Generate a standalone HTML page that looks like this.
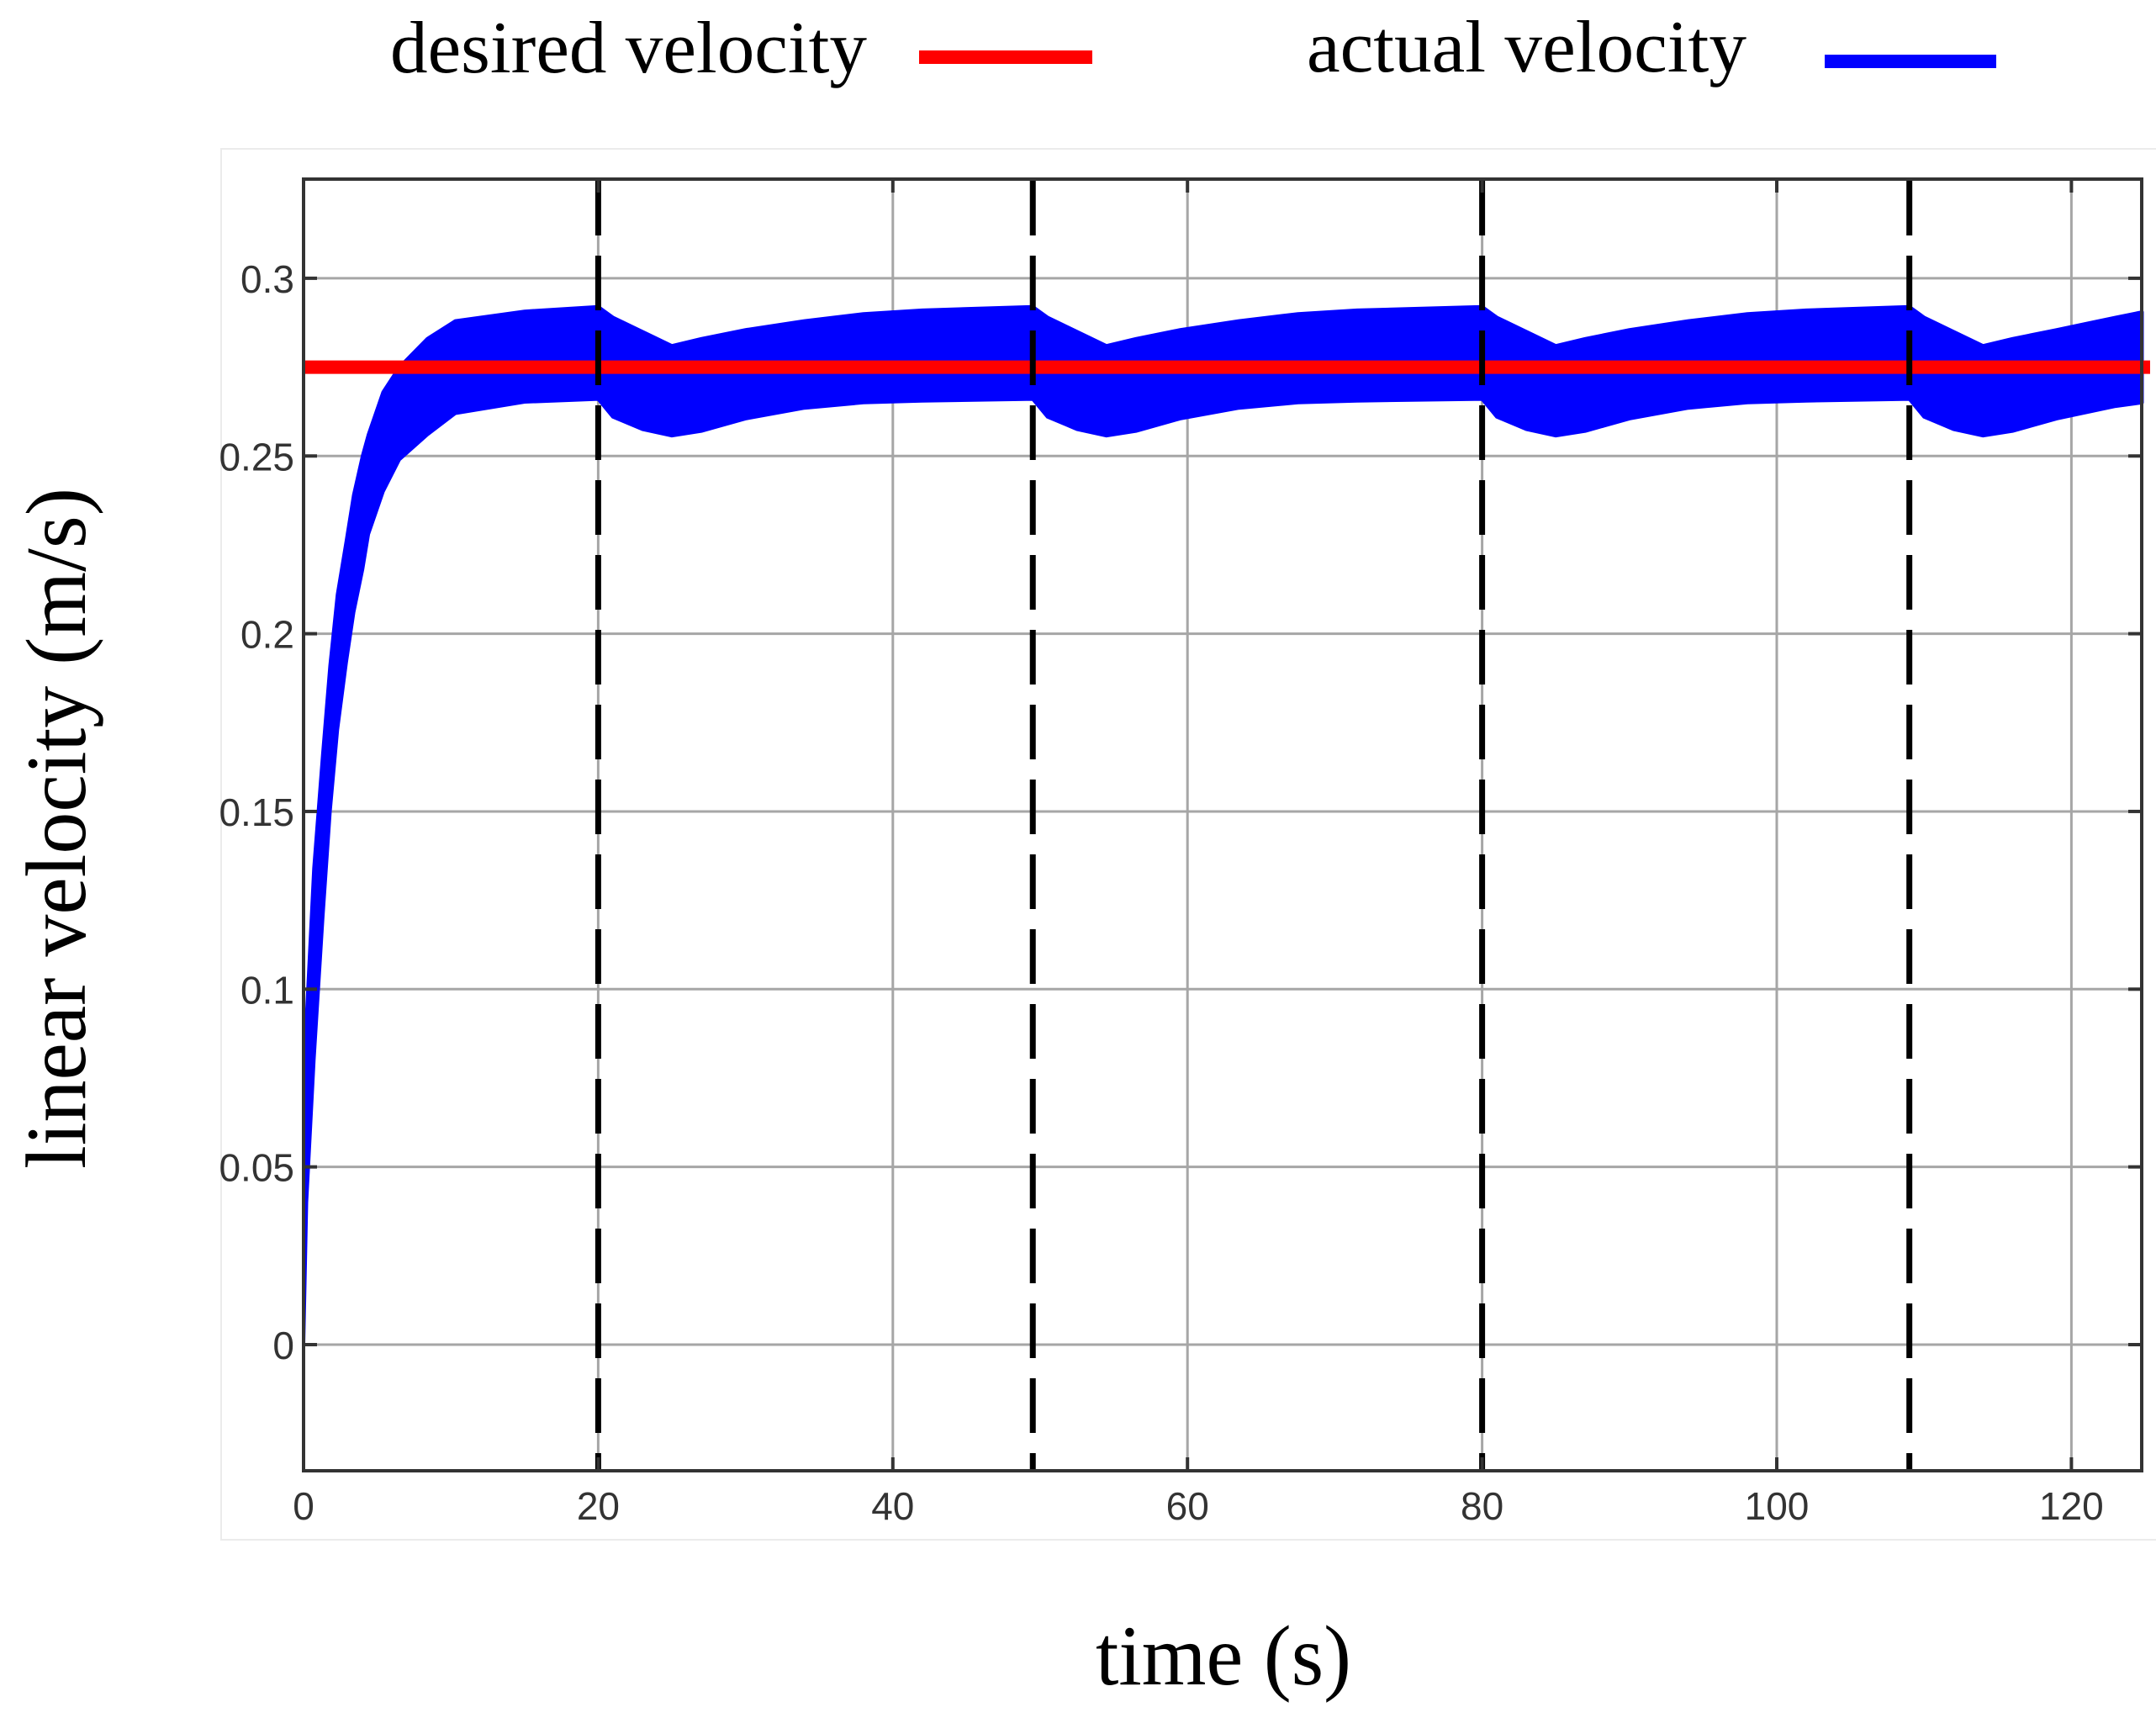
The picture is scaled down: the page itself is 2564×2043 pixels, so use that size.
<!DOCTYPE html>
<html><head><meta charset="utf-8"><style>
html,body{margin:0;padding:0;background:#fff;}
svg{display:block;}
</style></head><body>
<svg id="chart" width="2564" height="2043" viewBox="0 0 2564 2043" xmlns="http://www.w3.org/2000/svg">
<rect x="0" y="0" width="2564" height="2043" fill="#fff"/>
<rect x="263" y="177" width="2310" height="1654" fill="none" stroke="#ebebeb" stroke-width="2"/>
<g id="grid"></g>
<g id="series"></g>
<g id="axes"></g>
<g>
<text x="464" y="86" font-family="Liberation Serif, serif" font-size="88" textLength="567" lengthAdjust="spacingAndGlyphs">desired velocity</text>
<rect x="1093" y="60" width="206" height="16" fill="#ff0000"/>
<text x="1554" y="85" font-family="Liberation Serif, serif" font-size="88" textLength="523" lengthAdjust="spacingAndGlyphs">actual velocity</text>
<rect x="2170" y="65" width="204" height="16" fill="#0000ff"/>
</g>
<text transform="translate(101,1390) rotate(-90)" x="0" y="0" font-family="Liberation Serif, serif" font-size="102" textLength="810" lengthAdjust="spacingAndGlyphs">linear velocity (m/s)</text>
<text x="1303" y="2003" font-family="Liberation Serif, serif" font-size="102" textLength="304" lengthAdjust="spacingAndGlyphs">time (s)</text>
</svg>
<script>
const xTicks = [0, 20, 40, 60, 80, 100, 120];
const yTicks = [0, 0.05, 0.1, 0.15, 0.2, 0.25, 0.3];
const yTickLabels = ["0", "0.05", "0.1", "0.15", "0.2", "0.25", "0.3"];
const switchTimes = [20, 49.5, 80, 109];
const desiredValue = 0.275;
const actualTimes = [0, 0.2, 0.7, 1.3, 1.8, 2.3, 2.9, 3.4, 4.0, 4.4, 5.4, 6.5, 8.4, 10.3, 15, 20,
  21, 23, 25, 27, 30, 34, 38, 42, 49.5,
  50.5, 52.5, 54.5, 56.5, 59.5, 63.5, 67.5, 71.5, 80,
  81, 83, 85, 87, 90, 94, 98, 102, 109,
  110, 112, 114, 116, 119, 123, 124.8];
const actualUpper = [0, 0.092, 0.134, 0.166, 0.191, 0.211, 0.226, 0.239, 0.250, 0.256, 0.268, 0.275, 0.283, 0.288, 0.2907, 0.292,
  0.289, 0.285, 0.281, 0.283, 0.2855, 0.288, 0.290, 0.291, 0.292,
  0.289, 0.285, 0.281, 0.283, 0.2855, 0.288, 0.290, 0.291, 0.292,
  0.289, 0.285, 0.281, 0.283, 0.2855, 0.288, 0.290, 0.291, 0.292,
  0.289, 0.285, 0.281, 0.283, 0.2855, 0.289, 0.2905];
const actualLower = [0, 0.04, 0.080, 0.120, 0.150, 0.173, 0.192, 0.206, 0.218, 0.228, 0.240, 0.249, 0.256, 0.262, 0.2652, 0.266,
  0.261, 0.2575, 0.2557, 0.257, 0.2605, 0.2635, 0.265, 0.2655, 0.266,
  0.261, 0.2575, 0.2557, 0.257, 0.2605, 0.2635, 0.265, 0.2655, 0.266,
  0.261, 0.2575, 0.2557, 0.257, 0.2605, 0.2635, 0.265, 0.2655, 0.266,
  0.261, 0.2575, 0.2557, 0.257, 0.2605, 0.264, 0.265];

const NS = "http://www.w3.org/2000/svg";
const X0 = 361, XS = 17.52, Y0 = 1599, YS = 4227;
const L = 361, R = 2547, T = 213, B = 1749;
const xMin = 0, xMax = (R - L) / XS;
function sx(t) { return X0 + t * XS; }
function sy(v) { return Y0 - v * YS; }
function mk(tag, attrs, parent) {
  const e = document.createElementNS(NS, tag);
  for (const k in attrs) e.setAttribute(k, attrs[k]);
  parent.appendChild(e);
  return e;
}
const grid = document.getElementById('grid');
const series = document.getElementById('series');
const axes = document.getElementById('axes');

xTicks.forEach((t, i) => {
  const x = sx(t);
  if (i > 0) {
    const g = mk('line', {x1: x, x2: x, y1: T, y2: B, stroke: '#a6a6a6', 'stroke-width': 3}, grid);
    
    
  }
  const tk1 = mk('line', {x1: x, x2: x, y1: B, y2: B - 16, stroke: '#333', 'stroke-width': 4}, axes);
  
  
  const tk2 = mk('line', {x1: x, x2: x, y1: T, y2: T + 16, stroke: '#333', 'stroke-width': 4}, axes);
  
  
  const lb = mk('text', {x: x, y: 1807, 'text-anchor': 'middle', 'font-family': 'Liberation Sans, sans-serif', 'font-size': 46, fill: '#333'}, axes);
  lb.textContent = String(t);
  
  
});
yTicks.forEach((v, i) => {
  const y = sy(v);
  const g = mk('line', {x1: L, x2: R, y1: y, y2: y, stroke: '#a6a6a6', 'stroke-width': 3}, grid);
  
  
  const tk1 = mk('line', {x1: L, x2: L + 16, y1: y, y2: y, stroke: '#333', 'stroke-width': 4}, axes);
  
  
  const tk2 = mk('line', {x1: R - 16, x2: R, y1: y, y2: y, stroke: '#333', 'stroke-width': 4}, axes);
  
  
  const lb = mk('text', {x: 350, y: y + 17, 'text-anchor': 'end', 'font-family': 'Liberation Sans, sans-serif', 'font-size': 46, fill: '#333'}, axes);
  lb.textContent = yTickLabels[i];
  
  
});

// actual velocity band
let pts = [];
for (let i = 0; i < actualTimes.length; i++) pts.push(sx(actualTimes[i]).toFixed(1) + ',' + sy(actualUpper[i]).toFixed(1));
for (let i = actualTimes.length - 1; i >= 0; i--) pts.push(sx(actualTimes[i]).toFixed(1) + ',' + sy(actualLower[i]).toFixed(1));
const band = mk('polygon', {points: pts.join(' '), fill: '#0000ff', stroke: '#0000ff', 'stroke-width': 4, 'stroke-linejoin': 'round'}, series);



// desired velocity
const red = mk('line', {x1: sx(xMin), x2: R + 10, y1: sy(desiredValue), y2: sy(desiredValue), stroke: '#ff0000', 'stroke-width': 16}, series);



// switch dashed lines
switchTimes.forEach(t => {
  const d = mk('line', {x1: sx(t), x2: sx(t), y1: 215, y2: B, stroke: '#000', 'stroke-width': 7, 'stroke-dasharray': '65 24'}, series);
  
  
});

const frame = mk('rect', {x: L, y: T, width: R - L, height: B - T, fill: 'none', stroke: '#333', 'stroke-width': 4}, axes);


</script>
</body></html>
